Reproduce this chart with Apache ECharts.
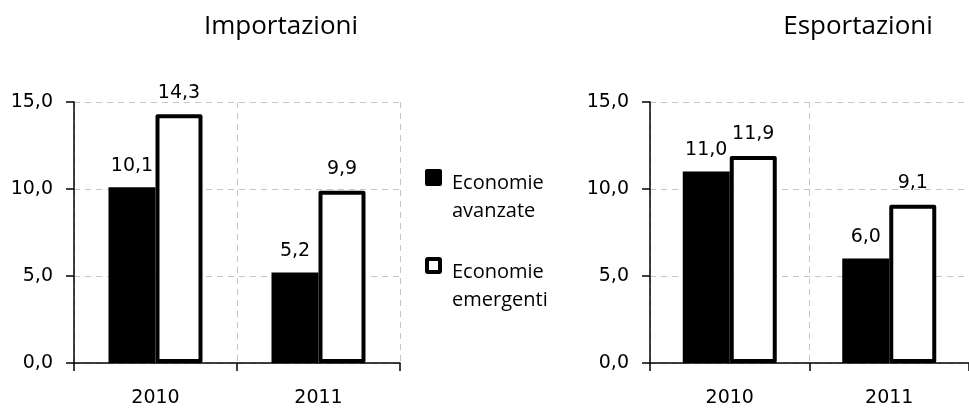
<!DOCTYPE html>
<html>
<head>
<meta charset="utf-8">
<script src="https://cdn.jsdelivr.net/npm/echarts@6/dist/echarts.min.js"></script>
<style>
  html, body { margin: 0; padding: 0; background: #fff; }
  #chart { width: 969px; height: 408px; }
</style>
</head>
<body>
<div id="chart"></div>
<script>
// dati del grafico
const anni = ['2010', '2011']
const titoli = ['Importazioni', 'Esportazioni']
const nomiSerie = ['Economie avanzate', 'Economie emergenti']
const importAvanzate = [10.1, 5.2]
const importEmergenti = [14.3, 9.9]
const exportAvanzate = [11.0, 6.0]
const exportEmergenti = [11.9, 9.1]
const yTicks = [0, 5, 10, 15]

const fmt = v => v.toFixed(1).replace('.', ',')
const axisFont = 'DejaVu Sans'
const axisSize = 19

const chart = echarts.init(document.getElementById('chart'))

// assi per un pannello
function xAxisFor (gridIndex) {
  return {
    type: 'category',
    gridIndex,
    data: anni,
    boundaryGap: true,
    axisLine: { lineStyle: { color: '#000', width: 1.5 } },
    axisTick: { show: true, length: 8, lineStyle: { color: '#000', width: 1.5 } },
    axisLabel: { color: '#000', fontFamily: axisFont, fontSize: axisSize, margin: 26 },
    splitLine: { show: true, lineStyle: { color: '#c4c4c4', type: [6, 5], width: 1 } }
  }
}
function yAxisFor (gridIndex) {
  return {
    type: 'value',
    gridIndex,
    min: yTicks[0],
    max: yTicks[yTicks.length - 1],
    interval: yTicks[1] - yTicks[0],
    axisLine: { show: true, lineStyle: { color: '#000', width: 1.5 } },
    axisTick: { show: true, length: 8, lineStyle: { color: '#000', width: 1.5 } },
    axisLabel: { color: '#000', fontFamily: axisFont, fontSize: axisSize, margin: 21, formatter: v => fmt(v) },
    splitLine: { show: true, lineStyle: { color: '#c4c4c4', type: [6, 5], width: 1 } }
  }
}
function barSeries (name, data, idx, bianco) {
  return {
    type: 'bar',
    name,
    data,
    xAxisIndex: idx,
    yAxisIndex: idx,
    barWidth: 47,
    barGap: '0%',
    itemStyle: bianco
      ? { color: '#fff', borderColor: '#000', borderWidth: 4, borderJoin: 'round' }
      : { color: '#000' },
    label: {
      show: true,
      position: 'top',
      distance: bianco ? 12 : 12,
      color: '#000',
      fontFamily: axisFont,
      fontSize: axisSize,
      formatter: p => fmt(p.value)
    }
  }
}

const legendFont = '20px "Open Sans"'
const titleStyle = { fontFamily: 'Open Sans', fontWeight: 'normal', fontSize: 26, color: '#000' }

const option = {
  animation: false,
  title: [
    { text: titoli[0], left: 276, top: 9, textAlign: 'center', textStyle: titleStyle },
    { text: titoli[1], left: 853, top: 9, textAlign: 'center', textStyle: titleStyle }
  ],
  grid: [
    { left: 74, right: 569, top: 102, bottom: 45 },
    { left: 650, right: -9, top: 102, bottom: 44 }
  ],
  xAxis: [xAxisFor(0), xAxisFor(1)],
  yAxis: [yAxisFor(0), yAxisFor(1)],
  series: [
    barSeries(nomiSerie[0], importAvanzate, 0, false),
    barSeries(nomiSerie[1], importEmergenti, 0, true),
    barSeries(nomiSerie[0], exportAvanzate, 1, false),
    barSeries(nomiSerie[1], exportEmergenti, 1, true)
  ],
  // legenda disegnata a mano (icona allineata alla prima riga)
  graphic: [
    { type: 'rect', left: 425, top: 169, shape: { width: 17, height: 17, r: 2 }, style: { fill: '#000' } },
    { type: 'text', left: 452, top: 169,
      style: { text: nomiSerie[0].replace(' ', '\n'), font: legendFont, lineHeight: 28, fill: '#000' } },
    { type: 'rect', left: 425, top: 257, shape: { width: 13, height: 13, r: 1 }, style: { fill: '#fff', stroke: '#000', lineWidth: 4 } },
    { type: 'text', left: 452, top: 258,
      style: { text: nomiSerie[1].replace(' ', '\n'), font: legendFont, lineHeight: 28, fill: '#000' } }
  ]
}
chart.setOption(option)
</script>
</body>
</html>
